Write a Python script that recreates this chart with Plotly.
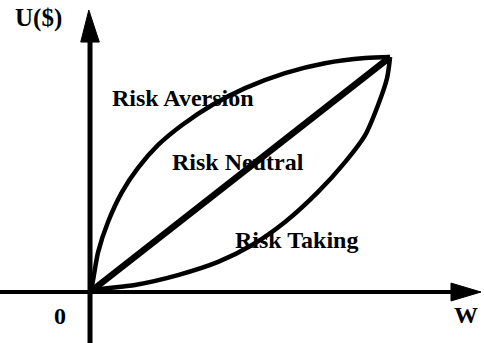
import plotly.graph_objects as go

# Wealth (W) and utility U($) readings for the three utility curves,
# on a 0-100 scale for both axes.
averse_w = [0, 0.7, 2.7, 6.0, 10.7, 16.0, 22.7, 30.7, 40.7, 51.7, 65.0, 78.3, 91.7, 100]
averse_u = [0, 3.0, 17.0, 29.8, 42.6, 52.8, 62.6, 71.1, 79.6, 86.8, 93.2, 97.4, 99.6, 100]

neutral_w = [0, 100]
neutral_u = [0, 100]

taking_w = [0, 1.7, 15.0, 29.3, 42.7, 54.0, 65.0, 76.0, 85.0, 91.7, 96.0, 99.0, 100]
taking_u = [0, 0.9, 3.0, 7.2, 12.8, 20.0, 29.8, 42.6, 55.3, 66.8, 79.6, 91.1, 100]

labels = ["Risk Aversion", "Risk Neutral", "Risk Taking"]
label_w = [31.0, 49.3, 68.7]
label_u = [82.6, 55.3, 22.1]

X_RANGE = [-30.0, 131.3]
Y_RANGE = [-21.7, 124.3]
FONT = "Liberation Serif, Times New Roman, serif"

fig = go.Figure()

fig.add_trace(go.Scatter(x=averse_w, y=averse_u, mode="lines",
                         line=dict(color="black", width=4.5, shape="spline", smoothing=0.8),
                         hoverinfo="skip"))
fig.add_trace(go.Scatter(x=neutral_w, y=neutral_u, mode="lines",
                         line=dict(color="black", width=6.5),
                         hoverinfo="skip"))
fig.add_trace(go.Scatter(x=taking_w, y=taking_u, mode="lines",
                         line=dict(color="black", width=4.5, shape="spline", smoothing=0.8),
                         hoverinfo="skip"))

# Axes drawn as thick lines with filled arrowheads
shapes = [
    dict(type="line", xref="x", yref="y", x0=0, y0=Y_RANGE[0], x1=0, y1=107.5,
         line=dict(color="black", width=5)),
    dict(type="line", xref="x", yref="y", x0=X_RANGE[0], y0=0, x1=121.5, y1=0,
         line=dict(color="black", width=4)),
    dict(type="path", xref="x", yref="y",
         path="M -3.1 106.4 L 3.1 106.4 L -0.4 120 Z",
         fillcolor="black", line=dict(color="black", width=1)),
    dict(type="path", xref="x", yref="y",
         path="M 120.3 -3.8 L 120.3 3.8 L 130.3 0 Z",
         fillcolor="black", line=dict(color="black", width=1)),
]

annotations = []
for text, w, u in zip(labels, label_w, label_u):
    annotations.append(dict(x=w, y=u, xref="x", yref="y", text=f"<b>{text}</b>",
                            showarrow=False, font=dict(family=FONT, size=24, color="black")))
annotations += [
    dict(x=-17.3, y=116.6, xref="x", yref="y", text="<b>U($)</b>", showarrow=False,
         font=dict(family=FONT, size=25, color="black")),
    dict(x=-10.0, y=-10.2, xref="x", yref="y", text="<b>0</b>", showarrow=False,
         font=dict(family=FONT, size=24, color="black")),
    dict(x=125.3, y=-9.8, xref="x", yref="y", text="<b>W</b>", showarrow=False,
         font=dict(family=FONT, size=24, color="black")),
]

fig.update_layout(
    width=484, height=343, autosize=False,
    margin=dict(l=0, r=0, t=0, b=0),
    paper_bgcolor="white", plot_bgcolor="white",
    showlegend=False,
    xaxis=dict(range=X_RANGE, visible=False, fixedrange=True),
    yaxis=dict(range=Y_RANGE, visible=False, fixedrange=True),
    shapes=shapes,
    annotations=annotations,
)

fig.write_html("out.html")
